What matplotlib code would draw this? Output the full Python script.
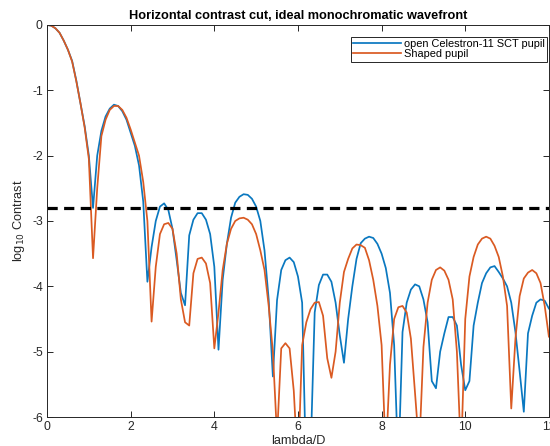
import numpy as np
import matplotlib
matplotlib.use("Agg")
import matplotlib.pyplot as plt

plt.rcParams['font.family'] = ['Liberation Sans', 'DejaVu Sans']
plt.rcParams['axes.unicode_minus'] = False

# Angular separation grid (lambda/D), 0.1 steps from 0 to 12
sep = np.round(np.arange(0, 12.01, 0.1), 1)

# log10 contrast along the horizontal cut, open Celestron-11 SCT pupil
open_pupil = [
    0.00, -0.01, -0.05, -0.12, -0.24, -0.38, -0.55, -0.85, -1.20, -1.55,
    -2.00, -2.80, -2.00, -1.62, -1.40, -1.28, -1.22, -1.24, -1.32, -1.45,
    -1.65, -1.85, -2.15, -2.70, -3.93, -3.40, -3.00, -2.78, -2.73, -2.83,
    -3.12, -3.60, -4.10, -4.29, -3.22, -2.98, -2.88, -2.88, -2.98, -3.20,
    -3.70, -4.97, -3.90, -3.35, -2.95, -2.72, -2.63, -2.59, -2.60, -2.66,
    -2.78, -3.00, -3.45, -4.20, -5.38, -4.21, -3.75, -3.60, -3.56, -3.63,
    -3.85, -4.25, -7.00, -6.60, -4.40, -3.98, -3.82, -3.82, -3.93, -4.25,
    -4.75, -5.17, -4.50, -4.00, -3.58, -3.34, -3.27, -3.24, -3.26, -3.35,
    -3.50, -3.72, -4.10, -4.90, -6.80, -4.70, -4.25, -4.05, -3.97, -4.00,
    -4.20, -4.55, -5.45, -5.56, -5.00, -4.72, -4.47, -4.47, -4.60, -5.20,
    -5.59, -5.45, -4.60, -4.25, -3.95, -3.80, -3.71, -3.69, -3.78, -3.88,
    -4.00, -4.25, -4.70, -5.30, -5.92, -4.72, -4.45, -4.25, -4.20, -4.22,
    -4.34,
]

# log10 contrast along the horizontal cut, shaped pupil
shaped_pupil = [
    0.00, -0.01, -0.05, -0.12, -0.24, -0.38, -0.56, -0.86, -1.20, -1.57,
    -2.05, -3.57, -2.50, -1.70, -1.45, -1.30, -1.24, -1.24, -1.30, -1.42,
    -1.60, -1.80, -2.00, -2.40, -3.00, -4.54, -3.70, -3.20, -3.05, -3.03,
    -3.12, -3.50, -4.20, -4.55, -4.60, -3.80, -3.58, -3.56, -3.65, -3.95,
    -4.95, -4.40, -3.75, -3.35, -3.12, -3.00, -2.96, -2.95, -2.98, -3.05,
    -3.20, -3.45, -3.75, -4.30, -5.00, -6.30, -4.95, -4.87, -4.95, -5.60,
    -6.80, -4.90, -4.55, -4.35, -4.25, -4.24, -4.45, -5.10, -5.40, -5.00,
    -4.25, -3.78, -3.58, -3.42, -3.36, -3.37, -3.41, -3.60, -3.90, -4.30,
    -4.90, -6.60, -5.20, -4.50, -4.32, -4.30, -4.40, -4.80, -5.64, -6.50,
    -4.93, -4.25, -3.90, -3.75, -3.71, -3.76, -3.90, -4.20, -5.00, -6.60,
    -4.50, -3.85, -3.55, -3.36, -3.27, -3.24, -3.27, -3.38, -3.55, -3.85,
    -4.30, -5.87, -4.80, -4.15, -3.88, -3.79, -3.75, -3.80, -3.95, -4.30,
    -4.77,
]

# Target contrast level
threshold = -2.8

series_labels = ['open Celestron-11 SCT pupil', 'Shaped pupil']
series_colors = ['#0A78C0', '#DA5A22']

fig = plt.figure(figsize=(5.5, 4.46), dpi=100)
ax = fig.add_axes([0.0855, 0.065, 0.9125, 0.879])

ax.plot(sep, open_pupil, color=series_colors[0], lw=1.25, label=series_labels[0])
ax.plot(sep, shaped_pupil, color=series_colors[1], lw=1.25, label=series_labels[1])
ax.axhline(threshold, color='black', lw=2.3, ls=(0, (3.2, 2.0)))

ax.set_xlim(0, 12)
ax.set_ylim(-6, 0)
ax.set_xticks(np.arange(0, 13, 2))
ax.set_yticks(np.arange(-6, 1, 1))
ax.set_xticklabels([str(v) for v in range(0, 13, 2)])
ax.set_yticklabels([str(v) for v in range(-6, 1)])
ax.tick_params(direction='in', length=4, width=0.7, color='#262626',
               labelsize=8.8, labelcolor='#262626', top=True, right=True, pad=3)
for sp in ax.spines.values():
    sp.set_color('#262626')
    sp.set_linewidth(0.7)

ax.set_title('Horizontal contrast cut, ideal monochromatic wavefront',
             fontsize=9.2, fontweight='bold', pad=4)
ax.set_xlabel('lambda/D', fontsize=9.2, color='#262626', labelpad=1)
ax.set_ylabel('log$_{10}$ Contrast', fontsize=9.2, color='#262626', labelpad=4)

leg = ax.legend(loc='upper right', bbox_to_anchor=(0.996, 0.969),
                fontsize=7.9, handlelength=4.3, handletextpad=0.3,
                borderpad=0.2, labelspacing=0.0, borderaxespad=0.0,
                fancybox=False, framealpha=1)
leg.get_frame().set_edgecolor('#262626')
leg.get_frame().set_linewidth(0.7)

fig.savefig('out.png', dpi=100)
